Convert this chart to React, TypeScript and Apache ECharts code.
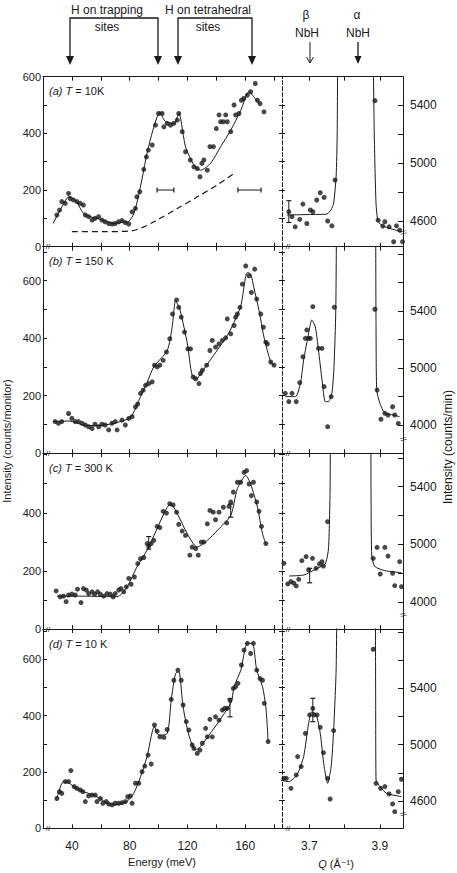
import React, { useEffect, useRef } from "react";
import * as echarts from "echarts";

// ---------- axis ticks / labels ----------
const energyTicks = [40, 60, 80, 100, 120, 140, 160, 180];
const energyLabels = [40, 80, 120, 160];
const qTicks = [3.7, 3.8, 3.9];
const qLabels = [3.7, 3.9];
const rightLabelValues = [4600, 5000, 5400];
const rightLabelTextsAD = ["4600", "5000", "5400"];
const rightLabelTextsBC = ["4000", "5000", "5400"];
const leftTicks600 = [0, 100, 200, 300, 400, 500, 600];
const leftTicks700 = [0, 100, 200, 300, 400, 500, 600, 700];
const aLeftLabels = [0, 200, 400, 600];
const bLeftLabels = [0, 200, 400, 600];
const cLeftLabels = [0, 200, 400];
const dLeftLabels = [0, 200, 400, 600];
const rightTicksA = [4600, 4800, 5000, 5200, 5400];
const rightTicksB = [4600, 4800, 5000, 5200, 5400, 5600, 5800];
const rightTicksC = [4600, 4800, 5000, 5200, 5400, 5600];
const rightTicksD = [4600, 4800, 5000, 5200, 5400, 5600, 5800];

// ---------- panel (a) T = 10 K ----------
const aPoints = [[29.6,112],[31.4,129],[33,159],[35.4,153],[37.7,188],[38.8,170],[41,165],[43.5,159],[45.8,153],[48,147],[49.3,112],[51.6,106],[54,94],[56,100],[58.5,106],[60.8,94],[63,88],[65.5,82],[67.8,80],[70,82],[72.4,88],[74.7,92],[77,85],[79.4,80],[81.7,123],[84,135],[85,176],[87,194],[89.8,273],[91.6,317],[93,341],[95.6,359],[97.9,429],[100,470],[102.5,470],[103.7,423],[106,435],[108.3,429],[110.6,435],[113,447],[114,470],[116.4,406],[118.7,335],[122,306],[124.5,282],[126.8,276],[128.7,247],[130,294],[131.4,306],[133.8,270],[135.6,353],[138,353],[140,417],[141.9,465],[143,441],[144.9,441],[146.5,465],[147.6,441],[150,406],[152.3,500],[153.4,465],[155.7,470],[157.4,517],[159,523],[161.5,535],[163.8,547],[167,576],[168.5,517],[170.3,505],[173,476]];
const aCurve = [[27,82],[32,130],[38,176],[43,160],[48,118],[54,104],[60,96],[69,82],[75,86],[79,88],[83,118],[87.5,212],[92,329],[96,410],[99,458],[101,476],[103,455],[105,441],[110.6,435],[114,470],[118.7,353],[124.5,288],[129,270],[136,294],[143,353],[150,411],[157,482],[162.7,547],[166,529],[169.6,505]];
const aBackground = [[40,53],[60,53],[80,55],[87.5,65],[99,94],[113,135],[126.8,176],[140.7,218],[152.3,259]];
const aResolution1 = [[99,200],[110.6,200]];
const aResolution2 = [[155,200],[171,200]];
const aRightPoints = [[3.642,4664],[3.651,4630],[3.660,4560],[3.673,4611],[3.682,4717],[3.693,4583],[3.703,4676],[3.710,4664],[3.721,4745],[3.731,4795],[3.742,4763],[3.752,4600],[3.764,4567],[3.773,4883],[3.886,5430],[3.895,4606],[3.908,4565],[3.914,4595],[3.926,4560],[3.939,4457],[3.947,4567],[3.956,4537],[3.964,4457]];
const aRightLow = [[3.637,4641],[3.70,4645],[3.75,4648],[3.762,4680],[3.769,4721],[3.776,4906],[3.779,5200],[3.781,6000]];
const aRightHigh = [[3.880,6000],[3.884,5200],[3.889,4722],[3.895,4595],[3.91,4565],[3.928,4549],[3.961,4526]];
const aRightError = [[3.642,4590],[3.642,4740]];

// ---------- panel (b) T = 150 K ----------
const bPoints = [[28.4,110],[30.7,104],[33,110],[37.7,138],[40,121],[42.3,110],[44.6,110],[47,104],[49.3,98],[51.6,92],[54,86],[56,101],[58.5,92],[60.8,101],[63,98],[65.5,81],[67.8,104],[70,110],[71.3,81],[74.7,115],[77,98],[79.4,121],[81.7,127],[84,161],[85.6,171],[87.5,208],[89.3,219],[91,236],[93.2,242],[95.6,248],[97.2,306],[99,300],[100.9,306],[103.2,323],[105.5,352],[107.8,398],[109.7,484],[112.5,533],[114,507],[115.7,473],[118,421],[120.3,363],[122.2,363],[124,265],[125.7,259],[128,242],[129,277],[130.3,288],[133.3,306],[135.6,357],[137.2,392],[139.5,369],[141.9,380],[144.2,392],[146.5,401],[147.6,467],[150,415],[152.3,444],[153.4,473],[154.6,484],[156.4,507],[158,588],[160.4,651],[162.7,617],[164.3,559],[166.6,640],[168,536],[170.8,484],[172.6,438],[174.3,386],[175.4,380],[177.7,317],[180,306]];
const bCurve = [[27,110],[38,112],[48,98],[58,96],[69,104],[80.5,125],[87.5,196],[92,245],[96.7,300],[106,357],[109.4,438],[111.8,530],[113,520],[115,496],[120,380],[123.3,271],[126.8,259],[128,268],[147.6,409],[152.3,455],[157,513],[161.5,628],[163.8,623],[166,576],[169.6,496],[173,404],[177.7,317],[180,306]];
const bRightPoints = [[3.632,4822],[3.642,4764],[3.651,4822],[3.663,4764],[3.673,4897],[3.682,5079],[3.689,5208],[3.693,5267],[3.698,5208],[3.703,5208],[3.710,5430],[3.726,5138],[3.736,5138],[3.742,4869],[3.752,4588],[3.762,4799],[3.771,5426],[3.886,5412],[3.892,4845],[3.903,4640],[3.914,4682],[3.923,4670],[3.936,4728],[3.942,4670],[3.952,4611]];
const bRightLow = [[3.632,4799],[3.661,4799],[3.675,4892],[3.684,5056],[3.698,5243],[3.707,5337],[3.717,5290],[3.726,5126],[3.736,4916],[3.745,4764],[3.754,4764],[3.764,4822],[3.770,5009],[3.775,5400],[3.777,6000]];
const bRightHigh = [[3.888,6000],[3.889,5300],[3.891,4845],[3.9,4752],[3.914,4682],[3.938,4670],[3.956,4658]];

// ---------- panel (c) T = 300 K ----------
const cPoints = [[29.1,131],[31.9,111],[34.2,113],[36,94],[37.7,117],[40,120],[42.3,117],[43.9,137],[46.3,91],[48,139],[50,134],[51.6,122],[54,128],[55.7,120],[57.8,128],[59.7,120],[62,113],[64.3,122],[66.6,120],[68.5,111],[70,122],[72.4,134],[74,139],[75.9,128],[77.7,145],[79.4,174],[81,154],[83.3,179],[85.6,225],[87.5,242],[89.8,246],[92.1,294],[93.2,285],[94.9,294],[96.7,305],[99,353],[100.9,349],[103.2,405],[105.5,399],[107.8,431],[110.1,427],[112.5,402],[114,360],[116.4,337],[118.7,322],[121.7,254],[123.3,282],[125.7,277],[127.5,254],[129.6,299],[131.4,299],[133.8,362],[135.6,408],[137.9,402],[139.5,376],[141.9,402],[144.9,419],[147.2,365],[148.8,422],[150,437],[151.8,471],[154.6,505],[156.9,505],[159.2,539],[161,545],[162.7,499],[164.3,459],[165.7,505],[168,437],[169.6,405],[171.3,353],[174.3,294]];
const cCurve = [[29.6,113],[50,113],[71.3,111],[78.2,145],[85.1,214],[92,271],[99,345],[103.7,397],[108.3,431],[113,397],[119.9,328],[126.8,282],[133.8,305],[140.7,339],[150,391],[154.6,483],[160.4,528],[163.8,499],[168.5,419],[172,328],[174.3,294]];
const cError1 = [[93.2,275],[93.2,318]];
const cError2 = [[150,385],[150,430]];
const cRightPoints = [[3.628,4870],[3.639,4727],[3.648,4743],[3.656,4732],[3.663,4713],[3.670,4759],[3.679,4888],[3.691,4916],[3.698,4824],[3.709,4904],[3.719,4835],[3.729,4865],[3.736,4881],[3.740,4851],[3.752,5158],[3.881,4904],[3.892,4980],[3.914,4980],[3.923,4920],[3.901,4796],[3.936,4801],[3.942,4715],[3.956,4881],[3.961,4708]];
const cRightLow = [[3.643,4782],[3.685,4789],[3.722,4835],[3.745,4865],[3.754,4962],[3.757,5150],[3.759,5400],[3.760,6000]];
const cRightHigh = [[3.874,6000],[3.875,5300],[3.877,4916],[3.886,4847],[3.914,4819],[3.961,4805]];
const cRightError = [[3.701,4735],[3.701,4835]];

// ---------- panel (d) T = 10 K ----------
const dPoints = [[29.6,106],[31.4,130],[33,124],[35.4,166],[37.7,166],[39.3,205],[41.6,148],[43.5,142],[45.8,136],[47.6,130],[49.3,95],[51.6,115],[54,118],[56.2,118],[57.4,95],[59.7,106],[61.5,89],[63.8,95],[65.5,86],[67.8,83],[70,89],[72.4,89],[74.7,91],[77,95],[78.7,112],[80.5,115],[81.7,89],[84,160],[86.3,160],[88.6,201],[90.5,221],[92.8,260],[94.9,228],[97.2,367],[99,345],[100.9,325],[103.7,323],[106,351],[108.8,458],[110.6,526],[113.4,562],[115.7,526],[117,438],[119.2,379],[121,349],[123.3,296],[124.5,284],[126.8,266],[128.7,278],[130.3,302],[132.6,355],[133.8,325],[135.6,387],[137.2,325],[139.5,396],[141.9,384],[144.2,420],[145.8,426],[147.6,426],[149.5,455],[151.8,497],[153.4,503],[155,515],[157.4,580],[159.2,633],[161.5,657],[163.8,621],[165.7,657],[168,562],[170.3,532],[172,526],[173.2,444],[175.9,308]];
const dCurve = [[29.6,106],[34.2,166],[37.7,162],[44.6,136],[55,118],[69,83],[78,95],[82.8,124],[87.5,183],[92,254],[97.2,361],[100.2,331],[106,337],[108.8,456],[111.8,550],[114,556],[117,432],[121,331],[125.7,278],[129,290],[150,444],[152.3,503],[157,562],[161.5,657],[165,657],[168,562],[172,503],[174.3,432],[175.9,308]];
const dError = [[149.5,396],[149.5,461]];
const dRightPoints = [[3.628,4761],[3.635,4761],[3.648,4690],[3.663,4785],[3.667,4915],[3.677,4844],[3.689,5080],[3.701,5211],[3.710,5258],[3.714,5211],[3.722,5211],[3.731,5123],[3.740,4943],[3.752,4761],[3.759,4614],[3.769,5099],[3.881,5677],[3.889,4725],[3.902,4690],[3.914,4702],[3.926,4650],[3.936,4579],[3.942,4524],[3.952,4666],[3.961,4754]];
const dRightLow = [[3.618,4749],[3.642,4737],[3.665,4785],[3.684,4915],[3.698,5151],[3.707,5234],[3.72,5211],[3.731,5080],[3.742,4844],[3.752,4725],[3.762,4844],[3.769,5104],[3.776,5530],[3.779,6200]];
const dRightHigh = [[3.887,6200],[3.888,5300],[3.889,4749],[3.9,4702],[3.919,4654],[3.961,4631]];
const dRightError = [[3.710,5163],[3.710,5329]];

const FONT = "'Liberation Sans', 'DejaVu Sans', sans-serif";
const INK = "#1a1a1a";

function buildOption() {
  const grid: any[] = [];
  const xAxis: any[] = [];
  const yAxis: any[] = [];
  const series: any[] = [];
  const graphic: any[] = [];

  const X0 = 43, XS = 282, X1 = 403;
  const eMin = 20, eMax = 185.5, qMin = 3.6227, qMax = 3.9654;

  const panels = [
    { key: "a", T: "10K", top: 76.7, bottom: 246.7, yMax: 600, yTicks: leftTicks600, yLabels: aLeftLabels, rMin: 4423, rMax: 5595, rTicks: rightTicksA, rTexts: rightLabelTextsAD, pts: aPoints, curve: aCurve, rPts: aRightPoints, rLow: aRightLow, rHigh: aRightHigh, lErr: [] as number[][][], rErr: [aRightError] },
    { key: "b", T: "150 K", top: 246.7, bottom: 453.2, yMax: 718, yTicks: leftTicks700, yLabels: bLeftLabels, rMin: 4402, rMax: 5851, rTicks: rightTicksB, rTexts: rightLabelTextsBC, pts: bPoints, curve: bCurve, rPts: bRightPoints, rLow: bRightLow, rHigh: bRightHigh, lErr: [], rErr: [] },
    { key: "c", T: "300 K", top: 453.2, bottom: 629, yMax: 605, yTicks: leftTicks600, yLabels: cLeftLabels, rMin: 4415, rMax: 5632, rTicks: rightTicksC, rTexts: rightLabelTextsBC, pts: cPoints, curve: cCurve, rPts: cRightPoints, rLow: cRightLow, rHigh: cRightHigh, lErr: [cError1, cError2], rErr: [cRightError] },
    { key: "d", T: "10 K", top: 629, bottom: 828.3, yMax: 708, yTicks: leftTicks700, yLabels: dLeftLabels, rMin: 4406, rMax: 5821, rTicks: rightTicksD, rTexts: rightLabelTextsAD, pts: dPoints, curve: dCurve, rPts: dRightPoints, rLow: dRightLow, rHigh: dRightHigh, lErr: [dError], rErr: [dRightError] },
  ];

  const line = { show: true, onZero: false, lineStyle: { color: INK, width: 1 } };

  panels.forEach((p, i) => {
    const isLast = i === panels.length - 1;
    const h = p.bottom - p.top;
    grid.push({ left: X0, top: p.top, width: XS - X0, height: h });
    const gL = grid.length - 1;
    grid.push({ left: XS, top: p.top, width: X1 - XS, height: h });
    const gR = grid.length - 1;

    xAxis.push({
      gridIndex: gL, type: "value", position: "bottom", min: eMin, max: eMax,
      axisLine: line, splitLine: { show: false },
      axisTick: { show: true, inside: true, length: 4, customValues: energyTicks, lineStyle: { color: INK } },
      axisLabel: { show: isLast, customValues: energyLabels, margin: 12, fontSize: 12, color: INK, fontFamily: FONT },
    });
    const xLb = xAxis.length - 1;
    xAxis.push({
      gridIndex: gL, type: "value", position: "top", min: eMin, max: eMax,
      axisLine: line, splitLine: { show: false },
      axisTick: { show: true, inside: true, length: 4, customValues: energyTicks, lineStyle: { color: INK } },
      axisLabel: { show: false },
    });
    xAxis.push({
      gridIndex: gR, type: "value", position: "bottom", min: qMin, max: qMax,
      axisLine: line, splitLine: { show: false },
      axisTick: { show: true, inside: true, length: 4, customValues: qTicks, lineStyle: { color: INK } },
      axisLabel: { show: isLast, customValues: qLabels, margin: 12, fontSize: 12, color: INK, fontFamily: FONT, formatter: (v: number) => v.toFixed(1) },
    });
    const xRb = xAxis.length - 1;
    xAxis.push({
      gridIndex: gR, type: "value", position: "top", min: qMin, max: qMax,
      axisLine: line, splitLine: { show: false },
      axisTick: { show: true, inside: true, length: 4, customValues: qTicks, lineStyle: { color: INK } },
      axisLabel: { show: false },
    });

    yAxis.push({
      gridIndex: gL, type: "value", position: "left", min: 0, max: p.yMax,
      axisLine: line, splitLine: { show: false },
      axisTick: { show: true, inside: true, length: 4, customValues: p.yTicks, lineStyle: { color: INK } },
      axisLabel: { show: true, customValues: p.yLabels, margin: 2, fontSize: 11, color: INK, fontFamily: FONT },
    });
    const yL = yAxis.length - 1;
    yAxis.push({
      gridIndex: gL, type: "value", position: "right", min: 0, max: p.yMax,
      axisLine: { show: true, onZero: false, lineStyle: { color: INK, width: 1, type: [4, 2] } },
      splitLine: { show: false },
      axisTick: { show: true, inside: true, length: 3, customValues: p.yTicks, lineStyle: { color: INK } },
      axisLabel: { show: false },
    });
    yAxis.push({
      gridIndex: gL, type: "value", position: "right", min: 0, max: p.yMax,
      axisLine: { show: false },
      splitLine: { show: false },
      axisTick: { show: true, inside: false, length: 3, customValues: p.yTicks, lineStyle: { color: INK } },
      axisLabel: { show: false },
    });
    const texts = p.rTexts;
    yAxis.push({
      gridIndex: gR, type: "value", position: "right", min: p.rMin, max: p.rMax,
      axisLine: line, splitLine: { show: false },
      axisTick: { show: true, inside: true, length: 5, customValues: p.rTicks, lineStyle: { color: INK } },
      axisLabel: {
        show: true, customValues: rightLabelValues, margin: 7, fontSize: 12, color: INK, fontFamily: FONT,
        formatter: (v: number) => texts[rightLabelValues.indexOf(Math.round(v))] ?? String(v),
      },
    });
    const yR = yAxis.length - 1;

    series.push({
      type: "line", xAxisIndex: xLb, yAxisIndex: yL, data: p.curve, showSymbol: false, symbol: "none",
      smooth: 0.25, lineStyle: { color: INK, width: 1 }, silent: true,
    });
    series.push({
      type: "scatter", xAxisIndex: xLb, yAxisIndex: yL, data: p.pts, symbolSize: 5,
      itemStyle: { color: INK }, silent: true,
    });
    p.lErr.forEach((e) => series.push({
      type: "line", xAxisIndex: xLb, yAxisIndex: yL, data: e, symbol: "rect", symbolSize: [5, 1.2],
      itemStyle: { color: INK }, lineStyle: { color: INK, width: 1 }, silent: true,
    }));
    series.push({
      type: "line", xAxisIndex: xRb, yAxisIndex: yR, data: p.rLow, showSymbol: false, symbol: "none",
      smooth: 0.2, lineStyle: { color: INK, width: 1 }, silent: true, clip: true,
    });
    series.push({
      type: "line", xAxisIndex: xRb, yAxisIndex: yR, data: p.rHigh, showSymbol: false, symbol: "none",
      smooth: 0.2, lineStyle: { color: INK, width: 1 }, silent: true, clip: true,
    });
    series.push({
      type: "scatter", xAxisIndex: xRb, yAxisIndex: yR, data: p.rPts, symbolSize: 5,
      itemStyle: { color: INK }, silent: true,
    });
    p.rErr.forEach((e) => series.push({
      type: "line", xAxisIndex: xRb, yAxisIndex: yR, data: e, symbol: "rect", symbolSize: [5, 1.2],
      itemStyle: { color: INK }, lineStyle: { color: INK, width: 1 }, silent: true,
    }));

    if (p.key === "a") {
      series.push({
        type: "line", xAxisIndex: xLb, yAxisIndex: yL, data: aBackground, showSymbol: false, symbol: "none",
        smooth: 0.3, lineStyle: { color: INK, width: 1.2, type: [6, 4] }, silent: true,
      });
      [aResolution1, aResolution2].forEach((r) => series.push({
        type: "line", xAxisIndex: xLb, yAxisIndex: yL, data: r, symbol: "rect", symbolSize: [1.2, 5],
        itemStyle: { color: INK }, lineStyle: { color: INK, width: 1 }, silent: true,
      }));
    }

    graphic.push({
      type: "text", left: 49, top: p.top + 9,
      style: {
        text: `{i|(${p.key})} {i|T} = ${p.T}`, fontSize: 11, fontFamily: FONT, fill: INK,
        rich: { i: { fontStyle: "italic", fontSize: 11, fontFamily: FONT, fill: INK } },
      },
    });
    graphic.push({ type: "text", x: 48, y: p.bottom, style: { text: "//", fontSize: 8, fontFamily: FONT, fill: INK, align: "center", verticalAlign: "middle" } });
    graphic.push({ type: "text", x: 288, y: p.bottom, style: { text: "//", fontSize: 8, fontFamily: FONT, fill: INK, align: "center", verticalAlign: "middle" } });
    graphic.push({ type: "text", x: X1, y: p.bottom - 14, rotation: -Math.PI / 3, style: { text: "//", fontSize: 8, fontFamily: FONT, fill: INK, align: "center", verticalAlign: "middle" } });
  });

  const txt = (x: number, y: number, s: string, size = 12) => ({
    type: "text", x, y, style: { text: s, fontSize: size, fontFamily: FONT, fill: INK, align: "center", verticalAlign: "middle" },
  });
  const arrowHead = (x: number, y: number) => ({
    type: "polygon", shape: { points: [[x - 4, y - 9], [x + 4, y - 9], [x, y]] }, style: { fill: INK },
  });
  graphic.push(txt(107, 10, "H on trapping"));
  graphic.push(txt(107, 27, "sites"));
  graphic.push({ type: "polyline", shape: { points: [[70, 58], [70, 18], [158, 18], [158, 58]] }, style: { stroke: INK, lineWidth: 1.3, fill: null } });
  graphic.push(arrowHead(70, 65));
  graphic.push(arrowHead(158, 65));
  graphic.push(txt(208, 10, "H on tetrahedral"));
  graphic.push(txt(208, 27, "sites"));
  graphic.push({ type: "polyline", shape: { points: [[178, 58], [178, 18], [252, 18], [252, 58]] }, style: { stroke: INK, lineWidth: 1.3, fill: null } });
  graphic.push(arrowHead(178, 65));
  graphic.push(arrowHead(252, 65));
  graphic.push(txt(306, 15, "β", 12));
  graphic.push(txt(307, 33, "NbH", 12));
  graphic.push({ type: "line", shape: { x1: 310, y1: 42, x2: 310, y2: 63 }, style: { stroke: INK, lineWidth: 1 } });
  graphic.push({ type: "polyline", shape: { points: [[306.5, 57], [310, 63], [313.5, 57]] }, style: { stroke: INK, lineWidth: 1, fill: null } });
  graphic.push(txt(357, 15, "α", 12));
  graphic.push(txt(358, 33, "NbH", 12));
  graphic.push({ type: "line", shape: { x1: 358, y1: 42, x2: 358, y2: 60 }, style: { stroke: INK, lineWidth: 1.3 } });
  graphic.push({ type: "polygon", shape: { points: [[354.5, 56], [361.5, 56], [358, 64]] }, style: { fill: INK } });

  graphic.push({ type: "text", x: 7, y: 441, rotation: Math.PI / 2, style: { text: "Intensity (counts/monitor)", fontSize: 11, fontFamily: FONT, fill: INK, align: "center", verticalAlign: "middle" } });
  graphic.push({ type: "text", x: 448, y: 447, rotation: Math.PI / 2, style: { text: "Intensity (counts/min)", fontSize: 12, fontFamily: FONT, fill: INK, align: "center", verticalAlign: "middle" } });
  graphic.push(txt(162, 862, "Energy (meV)", 11));
  graphic.push({
    type: "text", x: 336, y: 864,
    style: { text: "{i|Q} (Å⁻¹)", fontSize: 11, fontFamily: FONT, fill: INK, align: "center", verticalAlign: "middle", rich: { i: { fontStyle: "italic", fontSize: 11, fontFamily: FONT, fill: INK } } },
  });

  return { animation: false, backgroundColor: "#fff", grid, xAxis, yAxis, series, graphic };
}

export default function App() {
  const ref = useRef<HTMLDivElement>(null);
  useEffect(() => {
    if (!ref.current) return;
    const chart = echarts.init(ref.current, null, { renderer: "svg" });
    chart.setOption(buildOption() as any);
    return () => chart.dispose();
  }, []);
  return <div ref={ref} style={{ position: "absolute", left: 0, top: 0, width: 457, height: 873, background: "#fff" }} />;
}
